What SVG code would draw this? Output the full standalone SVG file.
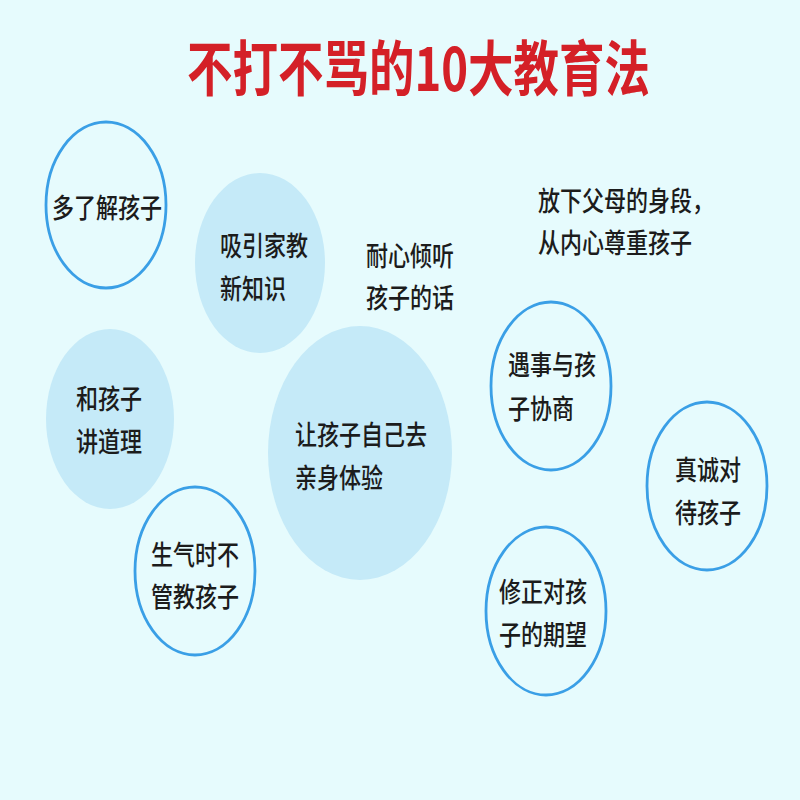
<svg xmlns="http://www.w3.org/2000/svg" width="800" height="800" viewBox="0 0 800 800">
<style>
.bg{fill:#E6FBFD}
.fill{fill:#C5EAF8;stroke:none}
.ring{fill:none;stroke:#3A9FE6;stroke-width:2.8}
.t{font-family:"Noto Sans CJK SC","Noto Sans",sans-serif;font-size:22px;font-weight:500;fill:#1c1c1c}
.title{font-family:"Noto Sans CJK SC","Noto Sans",sans-serif;font-size:46px;font-weight:700;fill:#D42027}
</style>
<rect class="bg" x="0" y="0" width="800" height="800"/>
<g id="title"><text class="title" transform="translate(187,91) scale(1,1.3)" x="0" y="0" textLength="463" lengthAdjust="spacingAndGlyphs">不打不骂的10大教育法</text></g>
<g id="connectors"></g>
<g id="n1"><ellipse class="ring" cx="106" cy="205" rx="60" ry="83"/>
<text class="t" transform="translate(52,218) scale(1,1.25)" textLength="110" lengthAdjust="spacingAndGlyphs">多了解孩子</text></g>
<g id="n2"><ellipse class="fill" cx="260" cy="263" rx="65" ry="90"/>
<text class="t" transform="translate(220,256) scale(1,1.25)">吸引家教</text>
<text class="t" transform="translate(220,299) scale(1,1.25)">新知识</text></g>
<g id="n3"><text class="t" transform="translate(366,266) scale(1,1.25)">耐心倾听</text>
<text class="t" transform="translate(366,308) scale(1,1.25)">孩子的话</text></g>
<g id="n4"><text class="t" transform="translate(538,211) scale(1,1.25)">放下父母的身段，</text>
<text class="t" transform="translate(538,253) scale(1,1.25)">从内心尊重孩子</text></g>
<g id="n5"><ellipse class="fill" cx="110" cy="419" rx="64" ry="90"/>
<text class="t" transform="translate(76,409) scale(1,1.25)">和孩子</text>
<text class="t" transform="translate(76,452) scale(1,1.25)">讲道理</text></g>
<g id="n6"><ellipse class="fill" cx="360" cy="453" rx="92" ry="127"/>
<text class="t" transform="translate(295,445) scale(1,1.25)">让孩子自己去</text>
<text class="t" transform="translate(295,488) scale(1,1.25)">亲身体验</text></g>
<g id="n7"><ellipse class="ring" cx="195" cy="571" rx="60" ry="84"/>
<text class="t" transform="translate(151,565) scale(1,1.25)">生气时不</text>
<text class="t" transform="translate(151,607) scale(1,1.25)">管教孩子</text></g>
<g id="n8"><ellipse class="ring" cx="551" cy="386" rx="60" ry="84"/>
<text class="t" transform="translate(508,375) scale(1,1.25)">遇事与孩</text>
<text class="t" transform="translate(508,419) scale(1,1.25)">子协商</text></g>
<g id="n9"><ellipse class="ring" cx="707" cy="486" rx="60" ry="84"/>
<text class="t" transform="translate(675,480) scale(1,1.25)">真诚对</text>
<text class="t" transform="translate(675,523) scale(1,1.25)">待孩子</text></g>
<g id="n10"><ellipse class="ring" cx="546" cy="611" rx="60" ry="84"/>
<text class="t" transform="translate(499,602) scale(1,1.25)">修正对孩</text>
<text class="t" transform="translate(499,645) scale(1,1.25)">子的期望</text></g>
</svg>
